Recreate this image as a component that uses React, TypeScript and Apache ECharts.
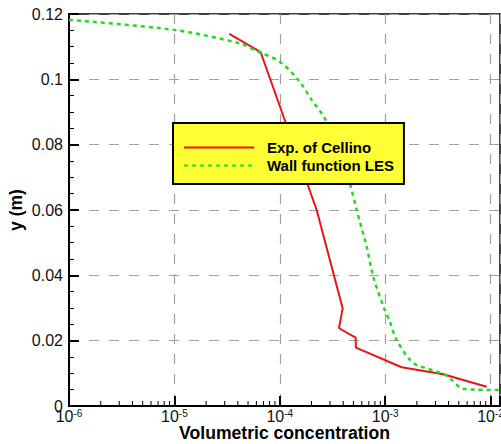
import React, { useEffect, useRef } from "react";
import * as echarts from "echarts";

// Axis decades and minor tick factors
const xDecades = [1e-6, 1e-5, 1e-4, 1e-3, 1e-2];
const minorFactors = [2, 3, 4, 5, 6, 7, 8, 9];

// Exp. of Cellino
const cellinoX = [3.32e-5, 6.59e-5, 2.24e-4, 3.95e-4, 3.65e-4, 5.25e-4, 5.28e-4, 1.435e-3, 3.56e-3, 9.18e-3];
const cellinoY = [0.1139, 0.1083, 0.06, 0.0299, 0.0238, 0.0209, 0.01785, 0.01185, 0.0097, 0.0059];

// Wall function LES
const lesX = [1.0e-6, 1.01e-5, 4.19e-5, 6.04e-5, 1.0e-4, 1.5e-4, 2.01e-4, 2.69e-4, 3.53e-4, 4.63e-4, 5.37e-4, 6.67e-4, 7.71e-4, 9.59e-4, 1.11e-3, 1.285e-3, 1.72e-3, 1.99e-3, 3.56e-3, 4.28e-3, 5.32e-3, 7.1e-3, 1.23e-2];
const lesY = [0.1182, 0.1151, 0.111, 0.1087, 0.1054, 0.0998, 0.0937, 0.0879, 0.0784, 0.068, 0.06, 0.0488, 0.0396, 0.0306, 0.0258, 0.0202, 0.0141, 0.01255, 0.0098, 0.008, 0.0054, 0.005, 0.0049];

const FONT = "Liberation Sans, Arial, Helvetica, sans-serif";

export default function App() {
  const ref = useRef<HTMLDivElement>(null);
  useEffect(() => {
    if (!ref.current) return;
    const chart = echarts.init(ref.current, undefined, { renderer: "svg" });
    const minorTicks: number[] = [];
    xDecades.slice(0, -1).forEach((d) => minorFactors.forEach((f) => minorTicks.push(d * f)));

    chart.setOption({
      animation: false,
      backgroundColor: "#fff",
      grid: {
        left: 69,
        top: 14,
        right: 1,
        bottom: 38,
        show: true,
        borderColor: "#000",
        borderWidth: 1.5,
        containLabel: false,
        outerBoundsMode: "none",
      },
      legend: {
        orient: "vertical",
        left: 173,
        top: 123,
        data: ["Exp. of Cellino", "Wall function LES"],
        backgroundColor: "#ffff33",
        borderColor: "#000",
        borderWidth: 2,
        borderRadius: 0,
        padding: [17, 10, 11, 10],
        itemWidth: 70,
        itemHeight: 14,
        itemGap: 3,
        selectedMode: false,
        itemStyle: { color: "rgba(0,0,0,0)", borderWidth: 0, borderColor: "rgba(0,0,0,0)" },
        textStyle: {
          fontFamily: FONT,
          fontWeight: "bold",
          fontSize: 15,
          color: "#000",
          padding: [0, 0, 0, 8],
        },
      },
      xAxis: {
        type: "log",
        logBase: 10,
        min: 1e-6,
        max: 0.0123,
        name: "Volumetric concentration",
        nameLocation: "middle",
        nameGap: 18,
        nameMoveOverlap: false,
        nameTextStyle: { fontFamily: FONT, fontWeight: "bold", fontSize: 17.6, color: "#000" },
        axisLine: { show: true, lineStyle: { color: "#000", width: 2 } },
        axisTick: { show: true, inside: true, length: 10, lineStyle: { color: "#000", width: 2 } },
        splitLine: { show: true, lineStyle: { color: "#a0a0a0", width: 1.2, type: [10, 10] } },
        axisLabel: {
          margin: 2,
          color: "#111",
          fontFamily: FONT,
          formatter: (v: number) => {
            const l = Math.log10(v);
            const e = Math.round(l);
            if (Math.abs(l - e) > 1e-6) return "";
            return `{b|10}{s|${e}}`;
          },
          rich: {
            b: { fontSize: 16, lineHeight: 16, fontFamily: FONT, color: "#111" },
            s: { fontSize: 10, lineHeight: 8, verticalAlign: "top", fontFamily: FONT, color: "#111" },
          },
        },
      },
      yAxis: {
        type: "value",
        min: 0,
        max: 0.12,
        interval: 0.02,
        name: "y (m)",
        nameLocation: "middle",
        nameGap: 44,
        nameMoveOverlap: false,
        nameTextStyle: { fontFamily: FONT, fontWeight: "bold", fontSize: 17.5, color: "#000" },
        axisLine: { show: true, lineStyle: { color: "#000", width: 2 } },
        axisTick: { show: true, inside: true, length: 10, lineStyle: { color: "#000", width: 2 } },
        minorTick: { show: true, splitNumber: 4, length: 5, lineStyle: { color: "#000", width: 1 } },
        splitLine: { show: true, lineStyle: { color: "#a0a0a0", width: 1.2, type: [10, 10] } },
        axisLabel: { margin: 6, fontSize: 16, fontFamily: FONT, color: "#111" },
      },
      series: [
        {
          name: "Exp. of Cellino",
          type: "line",
          showSymbol: false,
          symbol: "none",
          lineStyle: { color: "#e8141a", width: 2 },
          itemStyle: { color: "#e8141a" },
          data: cellinoX.map((x, i) => [x, cellinoY[i]]),
          z: 3,
        },
        {
          name: "Wall function LES",
          type: "line",
          showSymbol: false,
          symbol: "none",
          smooth: 0.3,
          lineStyle: { color: "#1fdc1f", width: 2.5, type: [4, 4] },
          itemStyle: { color: "#1fdc1f" },
          data: lesX.map((x, i) => [x, lesY[i]]),
          z: 3,
        },
        {
          name: "minor",
          type: "custom",
          silent: true,
          data: minorTicks.map((v) => [v, 0]),
          renderItem: (params: any, api: any) => {
            const p = api.coord([api.value(0), 0]);
            return {
              type: "line",
              shape: { x1: p[0], y1: p[1], x2: p[0], y2: p[1] - 5 },
              style: { stroke: "#000", lineWidth: 1 },
            };
          },
          z: 4,
        },
      ],
    });
    return () => chart.dispose();
  }, []);
  return <div ref={ref} style={{ position: "absolute", left: 0, top: 0, width: 501, height: 444 }} />;
}
